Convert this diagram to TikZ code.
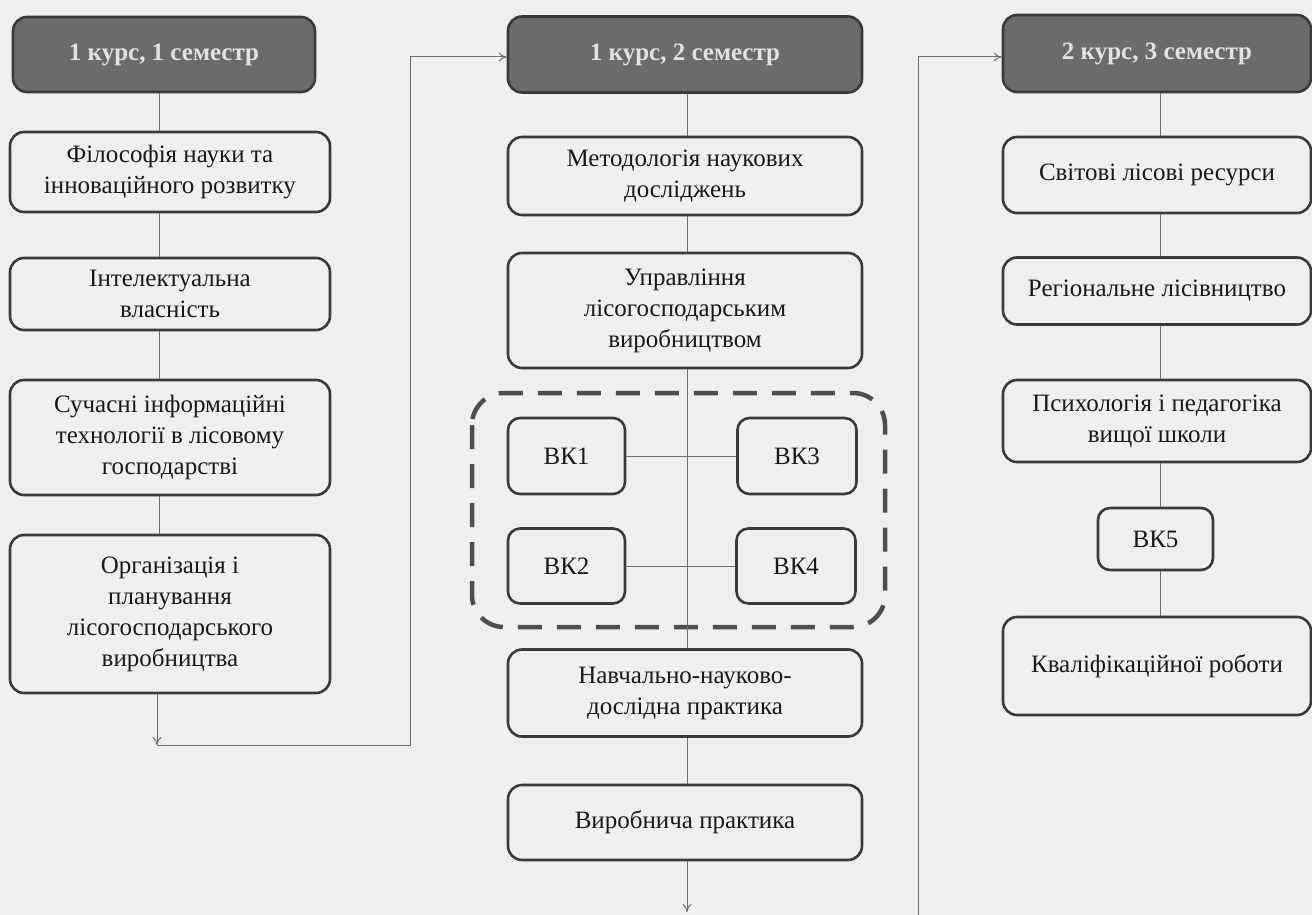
\documentclass[tikz,border=0pt]{standalone}
\usepackage{fontspec}
\setmainfont{Liberation Serif}
\usetikzlibrary{arrows.meta}
\definecolor{bg}{HTML}{EFEFEF}
\definecolor{hdrfill}{HTML}{6B6B6B}
\definecolor{hdrtext}{HTML}{E2E2E2}
\definecolor{edge}{HTML}{3A3A3A}
\definecolor{conn}{HTML}{6E6E6E}
\tikzset{
  box/.style={draw=edge, line width=2.6pt, rounded corners=14pt, fill=bg, align=center,
    text=black!90, font=\fontsize{25}{31}\selectfont, inner sep=2pt},
  hdr/.style={box, fill=hdrfill, text=hdrtext, font=\fontsize{25}{31}\selectfont\bfseries},
  vkbox/.style={box, rounded corners=12pt},
  link/.style={draw=conn, line width=1pt},
  arr/.style={link, -{To[length=8pt,width=9pt]}},
  zone/.style={draw=edge!90, line width=4.5pt, dash pattern=on 24pt off 15pt, rounded corners=32pt}
}
\begin{document}
\begin{tikzpicture}[x=1pt,y=-1pt]
\fill[bg] (0,0) rectangle (1312,915);
\useasboundingbox (0,0) rectangle (1312,915);
% column 1
\node[hdr, minimum width=302pt, minimum height=75pt] (h1) at (164,54.5) {1 курс, 1 семестр};
\node[box, minimum width=320pt, minimum height=80pt] (f1) at (170,172) {Філософія науки та\\інноваційного розвитку};
\node[box, minimum width=320pt, minimum height=72pt] (f2) at (170,294) {Інтелектуальна\\власність};
\node[box, minimum width=320pt, minimum height=115pt] (f3) at (170,437.5) {Сучасні інформаційні\\технології в лісовому\\господарстві};
\node[box, minimum width=320pt, minimum height=158pt] (f4) at (170,614) {Організація і\\планування\\лісогосподарського\\виробництва};
% column 2
\node[hdr, minimum width=354pt, minimum height=76pt] (h2) at (685,54.5) {1 курс, 2 семестр};
\node[box, minimum width=354pt, minimum height=78pt] (m1) at (685,176) {Методологія наукових\\досліджень};
\node[box, minimum width=354pt, minimum height=115pt] (m2) at (685,310.5) {Управління\\лісогосподарським\\виробництвом};
\node[vkbox, minimum width=117pt, minimum height=76pt] (v1) at (566.5,456) {ВК1};
\node[vkbox, minimum width=119pt, minimum height=76pt] (v3) at (797,456) {ВК3};
\node[vkbox, minimum width=117pt, minimum height=75pt] (v2) at (566.5,566) {ВК2};
\node[vkbox, minimum width=119pt, minimum height=75pt] (v4) at (796,566) {ВК4};
\node[box, minimum width=354pt, minimum height=87pt] (m3) at (685,693) {Навчально-науково-\\дослідна практика};
\node[box, minimum width=354pt, minimum height=75pt] (m4) at (685,822.5) {Виробнича практика};
% column 3
\node[hdr, minimum width=308pt, minimum height=77pt] (h3) at (1157,53.5) {2 курс, 3 семестр};
\node[box, minimum width=308pt, minimum height=76pt] (s1) at (1157,175) {Світові лісові ресурси};
\node[box, minimum width=308pt, minimum height=67pt] (s2) at (1157,291) {Регіональне лісівництво};
\node[box, minimum width=308pt, minimum height=82pt] (s3) at (1157,421) {Психологія і педагогіка\\вищої школи};
\node[vkbox, minimum width=115pt, minimum height=62pt] (v5) at (1155.5,539) {ВК5};
\node[box, minimum width=308pt, minimum height=98pt] (s4) at (1157,666) {Кваліфікаційної роботи};
% dashed zone
\draw[zone] (472,393) rectangle (885,627);
% coordinates
\coordinate (c1) at (159,0);
\coordinate (c2) at (687,0);
\coordinate (c3) at (1160,0);
\coordinate (a1) at (157,745);
\coordinate (a2) at (410,745);
\coordinate (a3) at (410,57);
\coordinate (b0) at (686,912);
\coordinate (b1) at (918,915);
\coordinate (b2) at (918,57);
% column 1 links
\draw[link] (h1.south -| c1) -- (f1.north -| c1);
\draw[link] (f1.south -| c1) -- (f2.north -| c1);
\draw[link] (f2.south -| c1) -- (f3.north -| c1);
\draw[link] (f3.south -| c1) -- (f4.north -| c1);
\draw[arr] (f4.south -| a1) -- (a1);
\draw[arr] (a1) -- (a2) -- (a3) -- (h2.west |- a3);
% column 2 links
\draw[link] (h2.south -| c2) -- (m1.north -| c2);
\draw[link] (m1.south -| c2) -- (m2.north -| c2);
\draw[link] (m2.south -| c2) -- (m3.north -| c2);
\draw[link] (v1.east) -- (v3.west);
\draw[link] (v2.east) -- (v4.west);
\draw[link] (m3.south -| c2) -- (m4.north -| c2);
\draw[arr] (m4.south -| c2) -- (b0 -| c2);
\draw[arr] (b1) -- (b2) -- (h3.west |- b2);
% column 3 links
\draw[link] (h3.south -| c3) -- (s1.north -| c3);
\draw[link] (s1.south -| c3) -- (s2.north -| c3);
\draw[link] (s2.south -| c3) -- (s3.north -| c3);
\draw[link] (s3.south -| c3) -- (v5.north -| c3);
\draw[link] (v5.south -| c3) -- (s4.north -| c3);
\end{tikzpicture}
\end{document}
